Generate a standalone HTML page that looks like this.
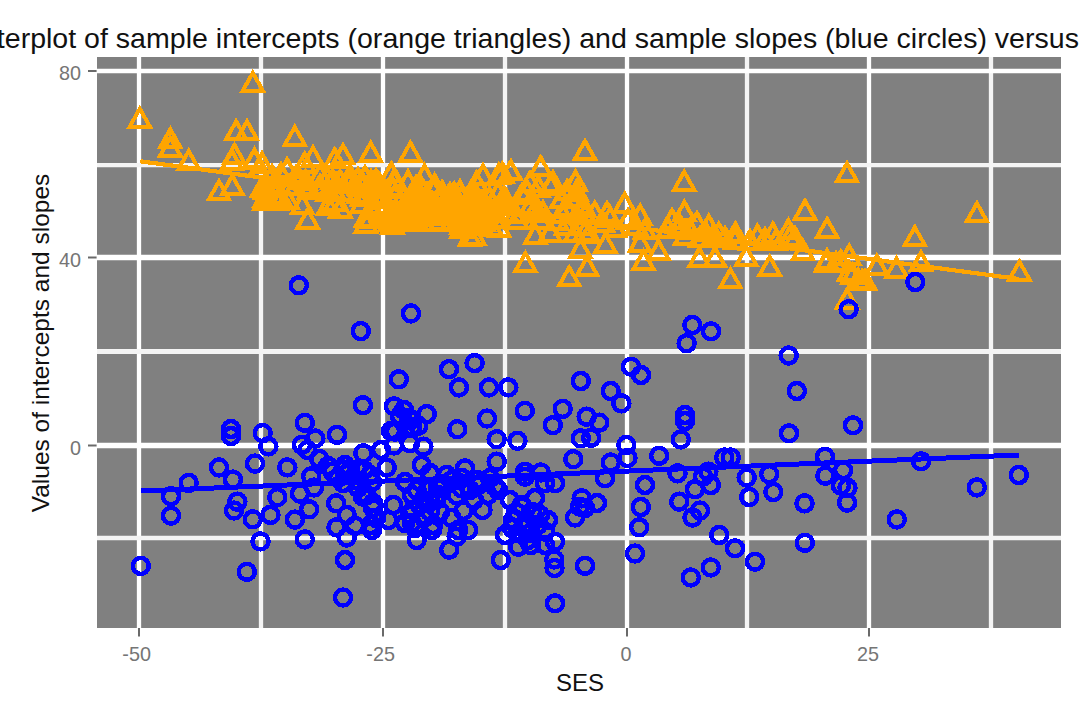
<!DOCTYPE html>
<html><head><meta charset="utf-8"><title>Scatterplot</title>
<style>
html,body{margin:0;padding:0;background:#fff;}
body{width:1086px;height:703px;overflow:hidden;position:relative;font-family:"Liberation Sans",sans-serif;}
svg{position:absolute;left:0;top:0;display:block;}
text{font-family:"Liberation Sans",sans-serif;}
</style></head><body>
<svg width="1086" height="703" viewBox="0 0 1086 703">
<defs>
<polygon id="t" points="0,-12 10.1,6 -10.1,6"/>
<circle id="c" r="8"/>
<clipPath id="pc"><rect x="97" y="57" width="964" height="571"/></clipPath>
</defs>
<rect x="0" y="0" width="1086" height="703" fill="#fff"/>
<rect x="97" y="57" width="964" height="571" fill="#808080"/>
<g stroke-width="4.3" clip-path="url(#pc)">
<line x1="139" y1="57" x2="139" y2="628" stroke="#fff"/>
<line x1="261" y1="57" x2="261" y2="628" stroke="#f4f4f4"/>
<line x1="383" y1="57" x2="383" y2="628" stroke="#fff"/>
<line x1="505" y1="57" x2="505" y2="628" stroke="#f4f4f4"/>
<line x1="627" y1="57" x2="627" y2="628" stroke="#fff"/>
<line x1="747" y1="57" x2="747" y2="628" stroke="#f4f4f4"/>
<line x1="869" y1="57" x2="869" y2="628" stroke="#fff"/>
<line x1="991" y1="57" x2="991" y2="628" stroke="#f4f4f4"/>
<line x1="97" y1="71" x2="1061" y2="71" stroke="#fff" stroke-width="4.4"/>
<line x1="97" y1="165.1" x2="1061" y2="165.1" stroke="#f4f4f4" stroke-width="4.4"/>
<line x1="97" y1="257.5" x2="1061" y2="257.5" stroke="#fff" stroke-width="5.3"/>
<line x1="97" y1="351.5" x2="1061" y2="351.5" stroke="#f4f4f4" stroke-width="5.1"/>
<line x1="97" y1="445.5" x2="1061" y2="445.5" stroke="#fff" stroke-width="5.3"/>
<line x1="97" y1="537.9" x2="1061" y2="537.9" stroke="#f4f4f4" stroke-width="4.5"/>
</g>
<g stroke="#6a6a6a" stroke-width="2">
<line x1="139" y1="628" x2="139" y2="636.5"/>
<line x1="383" y1="628" x2="383" y2="636.5"/>
<line x1="627" y1="628" x2="627" y2="636.5"/>
<line x1="869" y1="628" x2="869" y2="636.5"/>
<line x1="88" y1="71" x2="96.6" y2="71"/>
<line x1="88" y1="257.5" x2="96.6" y2="257.5"/>
<line x1="88" y1="445.5" x2="96.6" y2="445.5"/>
</g>
<g clip-path="url(#pc)" shape-rendering="crispEdges">
<path d="M140.3,161.3 L1019,279" fill="none" stroke="#FFA500" stroke-width="4.2" stroke-linejoin="round"/>
<g fill="none" stroke="#FFA500" stroke-width="4" stroke-linejoin="miter">
<use href="#t" x="139.8" y="120.7"/><use href="#t" x="252.8" y="84.8"/><use href="#t" x="170.3" y="141.2"/><use href="#t" x="170.3" y="149.5"/><use href="#t" x="188.7" y="163"/><use href="#t" x="236.2" y="133.3"/><use href="#t" x="247" y="133.3"/><use href="#t" x="234.5" y="157"/><use href="#t" x="254.5" y="161.3"/><use href="#t" x="262" y="165.5"/><use href="#t" x="232" y="163"/><use href="#t" x="294.8" y="139"/><use href="#t" x="313" y="159.5"/><use href="#t" x="334.7" y="161.3"/><use href="#t" x="343" y="157.2"/><use href="#t" x="370.7" y="155"/><use href="#t" x="410.4" y="154.8"/><use href="#t" x="287.2" y="171.3"/><use href="#t" x="304.7" y="165.5"/><use href="#t" x="391.3" y="175.4"/><use href="#t" x="434.6" y="187"/><use href="#t" x="585" y="153"/><use href="#t" x="540.7" y="169.3"/><use href="#t" x="483" y="177.5"/><use href="#t" x="510.8" y="173.3"/><use href="#t" x="502.3" y="175.5"/><use href="#t" x="575.5" y="183.5"/><use href="#t" x="553" y="184.5"/><use href="#t" x="530" y="184.7"/><use href="#t" x="684.2" y="183.8"/><use href="#t" x="847" y="175.3"/><use href="#t" x="219" y="193.3"/><use href="#t" x="232.3" y="187.8"/><use href="#t" x="265" y="192"/><use href="#t" x="265" y="199.5"/><use href="#t" x="307.7" y="221.6"/><use href="#t" x="366" y="225.5"/><use href="#t" x="366" y="220"/><use href="#t" x="392.5" y="227"/><use href="#t" x="469.8" y="239"/><use href="#t" x="461" y="231.4"/><use href="#t" x="459.9" y="193.5"/><use href="#t" x="476.5" y="184.7"/><use href="#t" x="498.7" y="177"/><use href="#t" x="624.7" y="205.7"/><use href="#t" x="610.3" y="220"/><use href="#t" x="640.2" y="217.8"/><use href="#t" x="684.4" y="214"/><use href="#t" x="582.7" y="206.8"/><use href="#t" x="585" y="216.7"/><use href="#t" x="525.4" y="265.1"/><use href="#t" x="587.2" y="269"/><use href="#t" x="569.2" y="279.4"/><use href="#t" x="580.4" y="251"/><use href="#t" x="605.5" y="246"/><use href="#t" x="535.3" y="237"/><use href="#t" x="474.4" y="238"/><use href="#t" x="658.5" y="253"/><use href="#t" x="643.5" y="263"/><use href="#t" x="640" y="245"/><use href="#t" x="699.3" y="260.4"/><use href="#t" x="708.8" y="227.8"/><use href="#t" x="805" y="212.7"/><use href="#t" x="827.1" y="231"/><use href="#t" x="914.8" y="239.2"/><use href="#t" x="735.4" y="235.6"/><use href="#t" x="757.5" y="237.8"/><use href="#t" x="772.9" y="235.6"/><use href="#t" x="788.4" y="232.2"/><use href="#t" x="795" y="240"/><use href="#t" x="718.8" y="235.6"/><use href="#t" x="730.4" y="281.3"/><use href="#t" x="769.7" y="268.7"/><use href="#t" x="746.4" y="259"/><use href="#t" x="849.2" y="257.7"/><use href="#t" x="827" y="262.3"/><use href="#t" x="826" y="264.8"/><use href="#t" x="852.5" y="276.8"/><use href="#t" x="862" y="283"/><use href="#t" x="876.9" y="267.8"/><use href="#t" x="896.5" y="270.5"/><use href="#t" x="921" y="264.2"/><use href="#t" x="976.9" y="215.3"/><use href="#t" x="1019.4" y="273.5"/><use href="#t" x="865" y="282.8"/><use href="#t" x="847.1" y="301.6"/><use href="#t" x="575" y="235"/><use href="#t" x="715" y="260"/><use href="#t" x="849" y="274"/><use href="#t" x="836" y="265"/><use href="#t" x="254.2" y="162"/><use href="#t" x="408" y="183.6"/><use href="#t" x="424.5" y="177.4"/><use href="#t" x="394" y="183"/><use href="#t" x="268" y="203"/><use href="#t" x="277" y="203"/><use href="#t" x="262" y="190"/><use href="#t" x="264.4" y="188"/><use href="#t" x="264.2" y="203.2"/><use href="#t" x="274" y="185.5"/><use href="#t" x="275.3" y="196.8"/><use href="#t" x="280.7" y="199.8"/><use href="#t" x="280.9" y="201.9"/><use href="#t" x="290.3" y="187.8"/><use href="#t" x="287.7" y="201.8"/><use href="#t" x="305.7" y="183.3"/><use href="#t" x="304.7" y="188"/><use href="#t" x="302.2" y="206.9"/><use href="#t" x="309.2" y="191.6"/><use href="#t" x="320.1" y="187.9"/><use href="#t" x="327.9" y="193.5"/><use href="#t" x="328" y="208"/><use href="#t" x="332.5" y="182.1"/><use href="#t" x="336.1" y="185.9"/><use href="#t" x="333.8" y="192.3"/><use href="#t" x="334.8" y="204.3"/><use href="#t" x="341.2" y="194"/><use href="#t" x="340.4" y="210.5"/><use href="#t" x="350" y="183"/><use href="#t" x="349" y="186"/><use href="#t" x="358.7" y="196"/><use href="#t" x="361.9" y="184.5"/><use href="#t" x="362.5" y="188.3"/><use href="#t" x="362.4" y="198.5"/><use href="#t" x="361.7" y="205.7"/><use href="#t" x="371.1" y="183.3"/><use href="#t" x="375" y="197.6"/><use href="#t" x="371.1" y="211.7"/><use href="#t" x="370" y="220.7"/><use href="#t" x="379.7" y="186.8"/><use href="#t" x="376.7" y="190.2"/><use href="#t" x="381.7" y="197.3"/><use href="#t" x="378.7" y="199.3"/><use href="#t" x="379.7" y="206.8"/><use href="#t" x="381.4" y="214.7"/><use href="#t" x="386.1" y="206.5"/><use href="#t" x="385.7" y="209.5"/><use href="#t" x="389.7" y="217.7"/><use href="#t" x="389.9" y="223.9"/><use href="#t" x="392.9" y="191.4"/><use href="#t" x="395.2" y="197.2"/><use href="#t" x="396.3" y="216.8"/><use href="#t" x="397" y="222.7"/><use href="#t" x="403.7" y="197.9"/><use href="#t" x="404.8" y="206.3"/><use href="#t" x="404.7" y="210.2"/><use href="#t" x="399.9" y="220.4"/><use href="#t" x="412.4" y="201.6"/><use href="#t" x="409.8" y="204.9"/><use href="#t" x="412.3" y="208.9"/><use href="#t" x="412.1" y="216.6"/><use href="#t" x="411.5" y="223.6"/><use href="#t" x="415.8" y="189.3"/><use href="#t" x="415.6" y="196"/><use href="#t" x="419.5" y="199.3"/><use href="#t" x="417.5" y="206"/><use href="#t" x="417" y="218.6"/><use href="#t" x="414.1" y="222.1"/><use href="#t" x="421.5" y="190.2"/><use href="#t" x="425.9" y="201.6"/><use href="#t" x="424.6" y="206"/><use href="#t" x="422.1" y="213.1"/><use href="#t" x="423.2" y="215.8"/><use href="#t" x="433.6" y="193"/><use href="#t" x="432" y="204.9"/><use href="#t" x="431.7" y="211.1"/><use href="#t" x="434.6" y="216.1"/><use href="#t" x="434.7" y="223.7"/><use href="#t" x="442.2" y="194.2"/><use href="#t" x="439.2" y="203.5"/><use href="#t" x="436.9" y="209.6"/><use href="#t" x="441.9" y="217.6"/><use href="#t" x="440.5" y="223"/><use href="#t" x="449.8" y="196.3"/><use href="#t" x="446.4" y="202.4"/><use href="#t" x="449" y="208.3"/><use href="#t" x="447.1" y="211.5"/><use href="#t" x="445.9" y="216.2"/><use href="#t" x="454.1" y="195.6"/><use href="#t" x="455.2" y="200.5"/><use href="#t" x="457.4" y="205.2"/><use href="#t" x="451.7" y="223.7"/><use href="#t" x="461.5" y="199.4"/><use href="#t" x="464.5" y="214.5"/><use href="#t" x="459.5" y="222"/><use href="#t" x="461.6" y="226.9"/><use href="#t" x="470.3" y="198.7"/><use href="#t" x="466.9" y="208.6"/><use href="#t" x="469.8" y="216.5"/><use href="#t" x="469.7" y="225.9"/><use href="#t" x="475" y="195.7"/><use href="#t" x="475.9" y="201.4"/><use href="#t" x="475.7" y="209.1"/><use href="#t" x="476.1" y="211.7"/><use href="#t" x="474.1" y="217.3"/><use href="#t" x="476.8" y="227.5"/><use href="#t" x="484.1" y="204.5"/><use href="#t" x="483.9" y="210"/><use href="#t" x="487.4" y="214.7"/><use href="#t" x="485.7" y="220.7"/><use href="#t" x="483.6" y="224.2"/><use href="#t" x="481.9" y="228.4"/><use href="#t" x="489.5" y="200.6"/><use href="#t" x="491.8" y="229.4"/><use href="#t" x="498.1" y="194.9"/><use href="#t" x="498.4" y="220.8"/><use href="#t" x="499.3" y="230.1"/><use href="#t" x="504" y="199.1"/><use href="#t" x="506.4" y="202.6"/><use href="#t" x="505.8" y="207.6"/><use href="#t" x="507.2" y="215.3"/><use href="#t" x="515.4" y="215.5"/><use href="#t" x="516.9" y="221.5"/><use href="#t" x="522" y="197"/><use href="#t" x="527.3" y="193.7"/><use href="#t" x="529.9" y="209.2"/><use href="#t" x="538.5" y="189.8"/><use href="#t" x="535.5" y="211.3"/><use href="#t" x="538.4" y="214.6"/><use href="#t" x="539.9" y="222.1"/><use href="#t" x="543" y="214.4"/><use href="#t" x="550.6" y="187.7"/><use href="#t" x="550.2" y="234.5"/><use href="#t" x="561.4" y="201.1"/><use href="#t" x="562.2" y="216"/><use href="#t" x="557.4" y="223"/><use href="#t" x="567.1" y="193"/><use href="#t" x="566.9" y="209.2"/><use href="#t" x="567" y="210.5"/><use href="#t" x="565.9" y="227.8"/><use href="#t" x="576.5" y="193.7"/><use href="#t" x="575.8" y="200.4"/><use href="#t" x="584" y="209.5"/><use href="#t" x="582.1" y="227.9"/><use href="#t" x="584.7" y="234.2"/><use href="#t" x="589.2" y="236.3"/><use href="#t" x="594.8" y="214.7"/><use href="#t" x="272" y="178"/><use href="#t" x="281" y="176"/><use href="#t" x="296" y="179"/><use href="#t" x="320" y="177"/><use href="#t" x="327" y="180"/><use href="#t" x="350" y="178"/><use href="#t" x="358" y="181"/><use href="#t" x="300" y="182"/><use href="#t" x="340" y="183"/><use href="#t" x="365" y="179"/><use href="#t" x="376" y="182"/><use href="#t" x="672" y="222"/><use href="#t" x="680" y="228"/><use href="#t" x="690" y="232"/><use href="#t" x="697" y="225"/><use href="#t" x="705" y="234"/><use href="#t" x="668" y="231"/><use href="#t" x="712" y="240"/><use href="#t" x="603" y="225"/><use href="#t" x="615" y="230"/><use href="#t" x="628" y="222"/><use href="#t" x="636" y="228"/><use href="#t" x="645" y="232"/><use href="#t" x="607" y="215"/><use href="#t" x="735" y="242"/><use href="#t" x="750" y="243"/><use href="#t" x="765" y="241"/><use href="#t" x="725" y="240"/><use href="#t" x="700" y="240"/><use href="#t" x="685" y="238"/><use href="#t" x="776" y="243"/><use href="#t" x="790" y="239"/><use href="#t" x="803" y="253.3"/><use href="#t" x="858.3" y="282"/><use href="#t" x="840.8" y="263.5"/>
</g>
<path d="M141,491 L1019,455" fill="none" stroke="#0000FF" stroke-width="5" stroke-linejoin="round"/>
<g fill="none" stroke="#0000FF" stroke-width="4.5">
<use href="#c" x="298.8" y="285.3"/><use href="#c" x="188.7" y="482.9"/><use href="#c" x="171" y="496.1"/><use href="#c" x="171" y="515.7"/><use href="#c" x="231" y="429"/><use href="#c" x="231" y="436"/><use href="#c" x="219" y="467.4"/><use href="#c" x="232.9" y="479.6"/><use href="#c" x="255" y="463.6"/><use href="#c" x="262.7" y="433.1"/><use href="#c" x="268.3" y="446.4"/><use href="#c" x="287.3" y="467.4"/><use href="#c" x="304.8" y="422.8"/><use href="#c" x="315.3" y="438.5"/><use href="#c" x="302" y="444.8"/><use href="#c" x="319.2" y="459"/><use href="#c" x="307.5" y="450"/><use href="#c" x="337" y="434.8"/><use href="#c" x="311.2" y="476.4"/><use href="#c" x="332.5" y="471.8"/><use href="#c" x="314" y="487.5"/><use href="#c" x="300" y="493.6"/><use href="#c" x="277.3" y="497.2"/><use href="#c" x="237.3" y="501.7"/><use href="#c" x="234" y="510.5"/><use href="#c" x="252.8" y="519.3"/><use href="#c" x="270.5" y="514.9"/><use href="#c" x="309.2" y="509.3"/><use href="#c" x="294.9" y="519.6"/><use href="#c" x="260.5" y="541.4"/><use href="#c" x="304.8" y="539.4"/><use href="#c" x="336.2" y="503.3"/><use href="#c" x="336.5" y="527.3"/><use href="#c" x="140.8" y="565.9"/><use href="#c" x="246.8" y="571.8"/><use href="#c" x="345" y="560"/><use href="#c" x="343" y="597.5"/><use href="#c" x="360.8" y="331.1"/><use href="#c" x="411" y="313.4"/><use href="#c" x="398.8" y="379.3"/><use href="#c" x="449" y="369.1"/><use href="#c" x="474.6" y="363.1"/><use href="#c" x="458.9" y="387.4"/><use href="#c" x="489" y="387.4"/><use href="#c" x="508.3" y="387.4"/><use href="#c" x="362.9" y="405.2"/><use href="#c" x="394" y="406.3"/><use href="#c" x="400" y="416"/><use href="#c" x="426.8" y="414.1"/><use href="#c" x="487" y="418.5"/><use href="#c" x="524.8" y="410.8"/><use href="#c" x="562.7" y="408.9"/><use href="#c" x="457.3" y="429.2"/><use href="#c" x="552.8" y="425.2"/><use href="#c" x="411" y="420"/><use href="#c" x="363.3" y="453.3"/><use href="#c" x="418.3" y="425.8"/><use href="#c" x="395" y="431.7"/><use href="#c" x="410" y="443.3"/><use href="#c" x="423.3" y="446.7"/><use href="#c" x="386.7" y="467.5"/><use href="#c" x="350" y="470"/><use href="#c" x="370" y="475"/><use href="#c" x="421.7" y="465"/><use href="#c" x="430" y="473"/><use href="#c" x="416.7" y="490"/><use href="#c" x="393.3" y="505"/><use href="#c" x="366.7" y="495"/><use href="#c" x="373" y="503"/><use href="#c" x="446.7" y="475"/><use href="#c" x="438" y="488"/><use href="#c" x="456.7" y="495.5"/><use href="#c" x="430" y="501.7"/><use href="#c" x="343" y="483"/><use href="#c" x="346.7" y="515"/><use href="#c" x="346.7" y="537.5"/><use href="#c" x="355" y="525.8"/><use href="#c" x="370.8" y="525"/><use href="#c" x="416.7" y="540"/><use href="#c" x="449.2" y="549.7"/><use href="#c" x="363" y="496.7"/><use href="#c" x="373" y="508"/><use href="#c" x="388.3" y="520"/><use href="#c" x="405" y="523"/><use href="#c" x="413" y="510"/><use href="#c" x="423" y="500"/><use href="#c" x="430" y="511.7"/><use href="#c" x="433" y="525"/><use href="#c" x="451.7" y="518"/><use href="#c" x="458" y="530"/><use href="#c" x="438" y="495"/><use href="#c" x="411.7" y="523"/><use href="#c" x="586.7" y="416.7"/><use href="#c" x="599.2" y="422.7"/><use href="#c" x="621.3" y="403.3"/><use href="#c" x="496.7" y="439.2"/><use href="#c" x="517.5" y="440.8"/><use href="#c" x="496.7" y="461.7"/><use href="#c" x="580.8" y="438.3"/><use href="#c" x="591.2" y="437.8"/><use href="#c" x="573.3" y="459.2"/><use href="#c" x="626.3" y="445"/><use href="#c" x="627.5" y="458"/><use href="#c" x="610.8" y="462.5"/><use href="#c" x="605" y="478.3"/><use href="#c" x="525" y="471.7"/><use href="#c" x="525" y="476.7"/><use href="#c" x="540.8" y="472.5"/><use href="#c" x="545" y="483.3"/><use href="#c" x="555" y="483.3"/><use href="#c" x="465" y="468.3"/><use href="#c" x="476.7" y="480"/><use href="#c" x="461.7" y="488.3"/><use href="#c" x="495" y="486.7"/><use href="#c" x="488" y="495"/><use href="#c" x="581.7" y="498.3"/><use href="#c" x="597" y="503"/><use href="#c" x="580" y="506.7"/><use href="#c" x="521.7" y="505"/><use href="#c" x="535" y="498"/><use href="#c" x="500.8" y="560"/><use href="#c" x="554.2" y="559.5"/><use href="#c" x="554.5" y="568"/><use href="#c" x="585" y="565.8"/><use href="#c" x="555" y="603.3"/><use href="#c" x="575" y="517.5"/><use href="#c" x="585" y="508"/><use href="#c" x="555" y="541.7"/><use href="#c" x="518.3" y="546.7"/><use href="#c" x="530.8" y="545"/><use href="#c" x="505" y="535"/><use href="#c" x="540" y="515"/><use href="#c" x="521.7" y="506.7"/><use href="#c" x="513" y="520"/><use href="#c" x="526.7" y="523"/><use href="#c" x="545" y="531.7"/><use href="#c" x="482.5" y="510"/><use href="#c" x="463.3" y="510.8"/><use href="#c" x="468.3" y="530"/><use href="#c" x="456.7" y="536.7"/><use href="#c" x="530" y="533"/><use href="#c" x="518" y="533"/><use href="#c" x="685" y="415"/><use href="#c" x="685" y="421"/><use href="#c" x="680.8" y="439.5"/><use href="#c" x="659.2" y="455.8"/><use href="#c" x="789" y="433.3"/><use href="#c" x="796.9" y="391"/><use href="#c" x="724.2" y="457.5"/><use href="#c" x="730.8" y="457.5"/><use href="#c" x="677.5" y="473.3"/><use href="#c" x="645" y="485"/><use href="#c" x="640.8" y="507"/><use href="#c" x="679.2" y="501.7"/><use href="#c" x="695" y="489.2"/><use href="#c" x="710.8" y="485"/><use href="#c" x="708.3" y="471.7"/><use href="#c" x="703" y="476.7"/><use href="#c" x="700" y="510.5"/><use href="#c" x="746.7" y="477.5"/><use href="#c" x="749.2" y="497"/><use href="#c" x="769.2" y="474.2"/><use href="#c" x="773.3" y="492"/><use href="#c" x="804.5" y="503.3"/><use href="#c" x="639.2" y="527.3"/><use href="#c" x="635" y="553.5"/><use href="#c" x="692.5" y="517.5"/><use href="#c" x="719.2" y="535"/><use href="#c" x="735" y="548.3"/><use href="#c" x="755" y="561.7"/><use href="#c" x="710.8" y="567.5"/><use href="#c" x="690.8" y="577.5"/><use href="#c" x="804.8" y="542.8"/><use href="#c" x="853" y="425.3"/><use href="#c" x="825" y="456.9"/><use href="#c" x="825.4" y="475.7"/><use href="#c" x="843.1" y="470.1"/><use href="#c" x="840.9" y="485.6"/><use href="#c" x="847.5" y="487.8"/><use href="#c" x="847.1" y="502.6"/><use href="#c" x="921.1" y="461.3"/><use href="#c" x="896.8" y="519.4"/><use href="#c" x="976.8" y="487.4"/><use href="#c" x="1018.8" y="475"/><use href="#c" x="915.3" y="282"/><use href="#c" x="848.7" y="309.2"/><use href="#c" x="692.3" y="325"/><use href="#c" x="711" y="331.3"/><use href="#c" x="686.7" y="343.2"/><use href="#c" x="631" y="366.7"/><use href="#c" x="641" y="375"/><use href="#c" x="580.8" y="381"/><use href="#c" x="610.7" y="391"/><use href="#c" x="788.7" y="355.5"/><use href="#c" x="328" y="466"/><use href="#c" x="338" y="478"/><use href="#c" x="347" y="474"/><use href="#c" x="356" y="480"/><use href="#c" x="364" y="470"/><use href="#c" x="372" y="482"/><use href="#c" x="345" y="465"/><use href="#c" x="343.5" y="469.5"/><use href="#c" x="357.5" y="469.5"/><use href="#c" x="405" y="482"/><use href="#c" x="412" y="495"/><use href="#c" x="420" y="505"/><use href="#c" x="428" y="490"/><use href="#c" x="436" y="500"/><use href="#c" x="410" y="515"/><use href="#c" x="424" y="518"/><use href="#c" x="440" y="512"/><use href="#c" x="415" y="528"/><use href="#c" x="432" y="530"/><use href="#c" x="444" y="484"/><use href="#c" x="452" y="480"/><use href="#c" x="462" y="478"/><use href="#c" x="470" y="490"/><use href="#c" x="480" y="484"/><use href="#c" x="490" y="478"/><use href="#c" x="498" y="490"/><use href="#c" x="474" y="500"/><use href="#c" x="358" y="488"/><use href="#c" x="376" y="518"/><use href="#c" x="372" y="530"/><use href="#c" x="510" y="500"/><use href="#c" x="516" y="512"/><use href="#c" x="524" y="528"/><use href="#c" x="532" y="512"/><use href="#c" x="538" y="525"/><use href="#c" x="528" y="540"/><use href="#c" x="512" y="528"/><use href="#c" x="545" y="545"/><use href="#c" x="548" y="520"/><use href="#c" x="412" y="427"/><use href="#c" x="391" y="431"/><use href="#c" x="394" y="445.5"/><use href="#c" x="381" y="450"/><use href="#c" x="404" y="410"/><use href="#c" x="409" y="418"/>
</g>
</g>
<g fill="#757575" font-size="19.8px">
<text x="136.6" y="661" text-anchor="middle">-50</text>
<text x="380.6" y="661" text-anchor="middle">-25</text>
<text x="625.9" y="661" text-anchor="middle">0</text>
<text x="867.9" y="661" text-anchor="middle">25</text>
<text x="81" y="80" text-anchor="end">80</text>
<text x="81" y="266.5" text-anchor="end">40</text>
<text x="81" y="454.5" text-anchor="end">0</text>
</g>
<text x="580" y="690.6" text-anchor="middle" font-size="24px" fill="#111">SES</text>
<text transform="translate(48.9,343) rotate(-90)" text-anchor="middle" font-size="24.5px" fill="#111">Values of intercepts and slopes</text>
<text x="-60.3" y="47.9" font-size="28.55px" fill="#111" style="white-space:pre">Scatterplot of sample intercepts (orange triangles) and sample slopes (blue circles) versus</text>
</svg>
</body></html>
